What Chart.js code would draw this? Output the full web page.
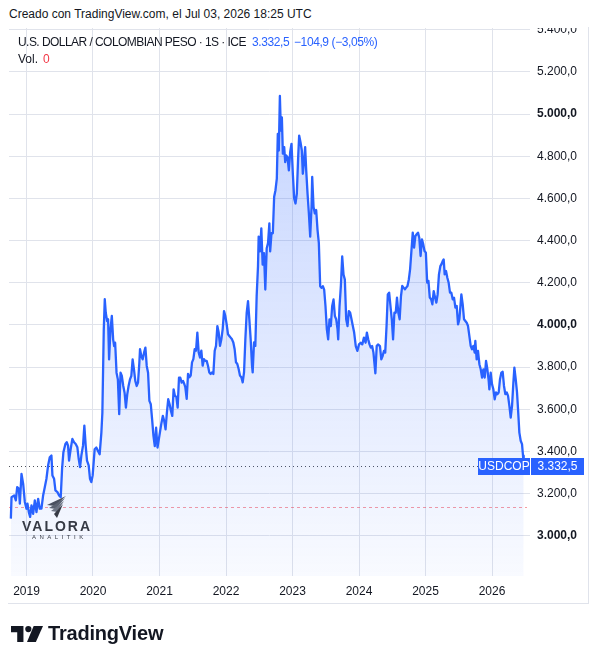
<!DOCTYPE html>
<html lang="es">
<head>
<meta charset="utf-8">
<title>USDCOP - TradingView</title>
<script src="https://cdn.jsdelivr.net/npm/chart.js@4.4.1/dist/chart.umd.min.js"></script>
<style>
  html, body { margin: 0; padding: 0; background: #fff; }
  body {
    width: 598px; height: 664px; position: relative; overflow: hidden;
    font-family: "Liberation Sans", Arial, sans-serif; color: #131722;
  }
  .created { position: absolute; left: 9px; top: 8px; font-size: 12px; line-height: 12px; }
  .panel {
    position: absolute; left: 8px; top: 27px; width: 580px; height: 576px;
    border-right: 1px solid #e0e3eb; border-bottom: 1px solid #e0e3eb;
  }
  #chart-wrap { position: absolute; left: 0; top: 28px; width: 598px; height: 580px; }
  .legend { position: absolute; font-size: 12px; line-height: 17px; white-space: nowrap; }
  .legend.title { left: 18px; top: 34px; letter-spacing: -0.55px; }
  .legend.up { top: 34px; color: #2962ff; letter-spacing: -0.4px; }
  .legend.vol { left: 18px; top: 51px; }
  .legend.vol span { color: #f23645; margin-left: 5px; }
  .valora { position: absolute; left: 22px; top: 496px; width: 72px; }
  .valora svg { position: absolute; left: 25px; top: 0; }
  .valora .name {
    position: absolute; left: 0; top: 22px; font-size: 14px; font-weight: bold;
    letter-spacing: 2px; color: #363a45;
  }
  .valora .sub {
    position: absolute; left: 10px; top: 38px; font-size: 6px; letter-spacing: 3.5px; color: #363a45;
  }
  .tv-logo { position: absolute; left: 11px; top: 626px; }
  .tv-name {
    position: absolute; left: 48px; top: 623px; font-size: 20px; line-height: 20px;
    font-weight: bold; letter-spacing: -0.2px; color: #131722;
  }
</style>
</head>
<body>

<div class="created">Creado con TradingView.com, el Jul 03, 2026 18:25 UTC</div>
<div class="panel"></div>

<div id="chart-wrap"><canvas id="usdcop-chart" width="598" height="580"></canvas></div>

<div class="legend title">U.S. DOLLAR / COLOMBIAN PESO · 1S · ICE</div>
<div class="legend up" id="last-price" style="left:252px"></div>
<div class="legend up" id="last-change" style="left:294px"></div>
<div class="legend vol">Vol.<span>0</span></div>

<div class="valora">
  <svg width="19" height="22" viewBox="0 0 19 22">
    <path d="M19 0 L0 9 L8 10 Z" fill="#4a5060"/>
    <path d="M18 2 L2 12 L9 13 Z" fill="#5b6272"/>
    <path d="M17 5 L4 15 L10 16 Z" fill="#6d7484"/>
    <path d="M16 8 L7 18 L10 22 Z" fill="#363a45"/>
  </svg>
  <div class="name">VALORA</div>
  <div class="sub">ANALITIK</div>
</div>

<svg class="tv-logo" width="32" height="16" viewBox="0 0 36 18">
  <path d="M0 0 H14 V18 H7 V7 H0 Z" fill="#131722"/>
  <circle cx="19.5" cy="3.5" r="3.5" fill="#131722"/>
  <path d="M25.5 0 H36 L28 18 H18 Z" fill="#131722"/>
</svg>
<div class="tv-name">TradingView</div>

<script>
// =============================================================================
// DATA (weekly closes)
// =============================================================================

// Week position as decimal year
const weekT = [
  2018.765, 2018.775, 2018.815, 2018.84, 2018.86, 2018.885, 2018.9, 2018.925, 2018.95, 2018.975,
  2019.0, 2019.015, 2019.035, 2019.055, 2019.075, 2019.1, 2019.125, 2019.15, 2019.175, 2019.2,
  2019.225, 2019.25, 2019.275, 2019.3, 2019.325, 2019.35, 2019.375, 2019.39, 2019.415, 2019.435,
  2019.465, 2019.49, 2019.515, 2019.535, 2019.555, 2019.585, 2019.605, 2019.625, 2019.64, 2019.665,
  2019.69, 2019.715, 2019.74, 2019.765, 2019.785, 2019.805, 2019.825, 2019.85, 2019.87, 2019.89,
  2019.91, 2019.935, 2019.955, 2019.975, 2019.995,
  2020.025, 2020.05, 2020.075, 2020.1, 2020.126, 2020.141, 2020.162, 2020.177, 2020.192, 2020.212,
  2020.227, 2020.242, 2020.263, 2020.283, 2020.303, 2020.318, 2020.333, 2020.354, 2020.374, 2020.394,
  2020.414, 2020.434, 2020.455, 2020.475, 2020.495, 2020.515, 2020.535, 2020.556, 2020.576, 2020.596,
  2020.616, 2020.636, 2020.657, 2020.677, 2020.697, 2020.707, 2020.727, 2020.747, 2020.768, 2020.788,
  2020.808, 2020.828, 2020.848, 2020.869, 2020.889, 2020.909, 2020.929, 2020.949, 2020.97, 2020.99,
  2021.01, 2021.03, 2021.05, 2021.071, 2021.091, 2021.111, 2021.131, 2021.152, 2021.172, 2021.192,
  2021.212, 2021.232, 2021.253, 2021.273, 2021.293, 2021.313, 2021.333, 2021.354, 2021.374,
  2021.388, 2021.409, 2021.429, 2021.449, 2021.469, 2021.489, 2021.509, 2021.529, 2021.549, 2021.569,
  2021.589, 2021.609, 2021.629, 2021.649, 2021.669, 2021.689, 2021.709, 2021.729, 2021.749, 2021.769,
  2021.789, 2021.81, 2021.83, 2021.85, 2021.87, 2021.89, 2021.91, 2021.93, 2021.95, 2021.97,
  2021.99, 2022.01, 2022.03, 2022.05, 2022.07, 2022.09, 2022.11, 2022.13, 2022.15, 2022.17,
  2022.19, 2022.21, 2022.231, 2022.251, 2022.271, 2022.291, 2022.311, 2022.331, 2022.351, 2022.371,
  2022.391, 2022.401, 2022.421, 2022.441, 2022.461, 2022.481, 2022.491, 2022.511, 2022.531, 2022.551,
  2022.571, 2022.591, 2022.612, 2022.632, 2022.652,
  2022.664, 2022.684, 2022.704, 2022.724, 2022.744, 2022.764, 2022.779, 2022.794, 2022.81, 2022.825,
  2022.84, 2022.855, 2022.875, 2022.89, 2022.905, 2022.925, 2022.945, 2022.965, 2022.985, 2023.005,
  2023.025, 2023.045, 2023.065, 2023.085, 2023.1, 2023.12, 2023.14, 2023.155, 2023.17, 2023.19,
  2023.206, 2023.226, 2023.246, 2023.266, 2023.286, 2023.296, 2023.316, 2023.336, 2023.356, 2023.376,
  2023.396, 2023.416, 2023.436, 2023.456, 2023.476, 2023.496, 2023.516, 2023.536, 2023.556, 2023.576,
  2023.596, 2023.617, 2023.637, 2023.657, 2023.677, 2023.687, 2023.707, 2023.727, 2023.747, 2023.767,
  2023.787, 2023.807, 2023.827, 2023.847, 2023.867, 2023.887, 2023.907, 2023.927,
  2023.951, 2023.975, 2024.0, 2024.025, 2024.049, 2024.074, 2024.099, 2024.118, 2024.138, 2024.158,
  2024.177, 2024.197, 2024.217, 2024.246, 2024.266, 2024.286, 2024.315, 2024.335, 2024.355, 2024.374,
  2024.394, 2024.414, 2024.433, 2024.453, 2024.473, 2024.493, 2024.512, 2024.532, 2024.552, 2024.571,
  2024.591, 2024.611, 2024.631, 2024.65, 2024.67, 2024.69, 2024.709, 2024.729, 2024.749, 2024.768,
  2024.788, 2024.808, 2024.828, 2024.847, 2024.867, 2024.887, 2024.906, 2024.926, 2024.946, 2024.966,
  2024.985, 2025.005, 2025.025, 2025.044, 2025.064, 2025.084, 2025.103, 2025.123, 2025.143, 2025.163,
  2025.182, 2025.202,
  2025.223, 2025.238, 2025.258, 2025.273, 2025.288, 2025.308, 2025.328, 2025.348, 2025.368, 2025.388,
  2025.409, 2025.429, 2025.449, 2025.469, 2025.489, 2025.509, 2025.529, 2025.539, 2025.559, 2025.579,
  2025.599, 2025.619, 2025.639, 2025.659, 2025.679, 2025.699, 2025.719, 2025.739, 2025.749, 2025.769,
  2025.789, 2025.81, 2025.83, 2025.85, 2025.87, 2025.89, 2025.91, 2025.93, 2025.95, 2025.96,
  2025.98, 2026.0, 2026.02, 2026.04, 2026.06, 2026.08, 2026.1, 2026.12, 2026.14, 2026.16,
  2026.18, 2026.2, 2026.221, 2026.241, 2026.261, 2026.281, 2026.301, 2026.321, 2026.336, 2026.356,
  2026.376, 2026.391, 2026.411, 2026.431, 2026.451, 2026.466, 2026.476
];

// USD/COP weekly close
const closeCOP = [
  3082, 3184, 3192, 3168, 3231, 3224, 3153, 3294, 3247, 3161,
  3129, 3153, 3113, 3090, 3145, 3105, 3168, 3113, 3176, 3129,
  3129, 3192, 3231, 3271, 3334, 3373, 3381, 3287, 3271, 3216,
  3208, 3192, 3184, 3318, 3397, 3436, 3444, 3428, 3357, 3413,
  3460, 3444, 3436, 3420, 3365, 3326, 3381, 3428, 3523, 3428,
  3357, 3334, 3271, 3255, 3287,
  3411, 3419, 3403, 3387, 3490, 3584, 3979, 4122, 4058, 4019,
  4027, 3837, 3979, 4043, 3932, 3900, 3916, 3774, 3742, 3577,
  3774, 3758, 3711, 3679, 3608, 3671, 3711, 3742, 3758, 3837,
  3790, 3735, 3711, 3727, 3821, 3885, 3853, 3837, 3869, 3893,
  3806, 3774, 3640, 3624, 3553, 3474, 3426, 3513, 3419, 3458,
  3498, 3537, 3569, 3545, 3505, 3584, 3648, 3624, 3592, 3569,
  3695, 3663, 3660, 3608, 3750, 3750, 3727, 3735, 3719,
  3705, 3650, 3768, 3752, 3760, 3823, 3838, 3885, 3878, 3964,
  3870, 3846, 3878, 3807, 3838, 3830, 3830, 3807, 3775, 3768,
  3775, 3768, 3878, 3901, 3995, 3964, 3901, 3932, 3980, 4066,
  4042, 4003, 3956, 3948, 3940, 3932, 3917, 3885, 3823, 3815,
  3791, 3760, 3752, 3728, 3775, 3932, 4058, 4113, 4027, 3932,
  3807, 3775, 3917, 3901, 4137, 4278, 4419, 4349, 4458, 4286,
  4341, 4168, 4364, 4388, 4482,
  4349, 4435, 4435, 4608, 4639, 4694, 4906, 4827, 5086, 4922,
  4984, 4812, 4843, 4772, 4804, 4796, 4733, 4820, 4859, 4717,
  4600, 4576, 4623, 4796, 4898, 4867, 4827, 4717, 4765, 4843,
  4733, 4623, 4529, 4419, 4560, 4702, 4560, 4529, 4545, 4451,
  4388, 4184, 4176, 4184, 4168, 4089, 3980, 3932, 4027, 3995,
  4089, 4121, 4042, 4027, 3980, 3932, 4089, 4184, 4325, 4239,
  4215, 4027, 3995, 4066, 4058, 4027, 3995, 3964,
  3900, 3877, 3908, 3916, 3908, 3940, 3916, 3964, 3932, 3908,
  3893, 3900, 3869, 3771, 3900, 3908, 3900, 3837, 3853, 3877,
  3869, 3995, 4145, 4153, 4090, 4027, 3932, 4058, 4058, 4130,
  4058, 4027, 4137, 4185, 4177, 4169, 4177, 4185, 4216, 4264,
  4351, 4438, 4367, 4422, 4430, 4438, 4414, 4327, 4406, 4382,
  4351, 4343, 4201, 4209, 4130, 4122, 4098, 4161, 4130, 4106,
  4145, 4240,
  4279, 4287, 4303, 4311, 4240, 4256, 4224, 4200, 4153, 4153,
  4122, 4129, 4082, 4090, 4003, 4027, 4106, 4145, 4098, 4027,
  4019, 4011, 3995, 3948, 3901, 3885, 3901, 3869, 3924, 3837,
  3877, 3814, 3790, 3751, 3790, 3751, 3830, 3790, 3735, 3695,
  3774, 3719, 3695, 3648, 3680, 3672, 3680, 3743, 3774, 3778,
  3711, 3672, 3680, 3664, 3617, 3561, 3617, 3727, 3798, 3743,
  3680, 3601, 3490, 3451, 3435, 3380, 3332.5
];

const yearTicks = [2019, 2020, 2021, 2022, 2023, 2024, 2025, 2026];
const priceTicks = [3000, 3200, 3400, 3600, 3800, 4000, 4200, 4400, 4600, 4800, 5000, 5200, 5400];

const lastPrice = 3332.5;
const lastChange = -104.9;
const lastChangePct = -3.05;
const refLevel = 3135;   // dashed horizontal line

// =============================================================================
// HELPERS
// =============================================================================

const LINE_BLUE = '#2962ff';
const GRID = '#e0e3eb';
const TEXT = '#131722';

/**
 * Format a number the Spanish way: 5.200,0
 */
function fmt(v, dec = 1) {
  const sign = v < 0 ? '\u2212' : '';
  const [i, d] = Math.abs(v).toFixed(dec).split('.');
  return sign + i.replace(/\B(?=(\d{3})+(?!\d))/g, '.') + (d ? ',' + d : '');
}

document.getElementById('last-price').textContent = fmt(lastPrice);
document.getElementById('last-change').textContent =
  fmt(lastChange) + ' (' + fmt(lastChangePct, 2) + '%)';

// =============================================================================
// PRICE MARKERS PLUGIN
// =============================================================================

const priceMarkers = {
  id: 'priceMarkers',
  beforeDatasetsDraw(chart) {
    const { ctx, chartArea, scales } = chart;
    const yLast = Math.round(scales.y.getPixelForValue(lastPrice)) + 0.5;
    const yRef = Math.round(scales.y.getPixelForValue(refLevel)) + 0.5;
    ctx.save();
    ctx.lineWidth = 1;

    // dashed reference level
    ctx.strokeStyle = 'rgba(242, 54, 69, 0.5)';
    ctx.setLineDash([3, 3]);
    ctx.beginPath();
    ctx.moveTo(chartArea.left, yRef);
    ctx.lineTo(chartArea.right - 3, yRef);
    ctx.stroke();

    // dotted last price line
    ctx.strokeStyle = 'rgba(19, 23, 34, 0.75)';
    ctx.setLineDash([1, 3]);
    ctx.beginPath();
    ctx.moveTo(chartArea.left, yLast);
    ctx.lineTo(chartArea.right - 52, yLast);
    ctx.stroke();
    ctx.restore();
  },
  afterDraw(chart) {
    const { ctx, chartArea, scales } = chart;
    const yc = Math.round(scales.y.getPixelForValue(lastPrice));
    const h = 17;
    ctx.save();
    ctx.fillStyle = LINE_BLUE;
    ctx.fillRect(chartArea.right - 52, yc - 8, 52, h);
    ctx.fillRect(chartArea.right + 1, yc - 8, 53, h);
    ctx.fillStyle = '#fff';
    ctx.font = '12px "Liberation Sans", Arial, sans-serif';
    ctx.textBaseline = 'middle';
    ctx.textAlign = 'center';
    ctx.fillText('USDCOP', chartArea.right - 26, yc + 1);
    ctx.fillText(fmt(lastPrice), chartArea.right + 27.5, yc + 1);
    ctx.restore();
  }
};

// =============================================================================
// CHART
// =============================================================================

const ctx = document.getElementById('usdcop-chart').getContext('2d');

new Chart(ctx, {
  type: 'line',
  data: {
    datasets: [{
      data: weekT.map((t, i) => ({ x: t, y: closeCOP[i] })),
      borderColor: LINE_BLUE,
      borderWidth: 2.3,
      borderJoinStyle: 'round',
      tension: 0,
      pointRadius: 0,
      fill: 'start',
      backgroundColor: (c) => {
        const area = c.chart.chartArea;
        if (!area) return 'rgba(41, 98, 255, 0.1)';
        const g = c.chart.ctx.createLinearGradient(0, area.top, 0, area.bottom);
        g.addColorStop(0, 'rgba(41, 98, 255, 0.3)');
        g.addColorStop(1, 'rgba(41, 98, 255, 0.03)');
        return g;
      }
    }]
  },
  options: {
    responsive: false,
    animation: false,
    devicePixelRatio: 1,
    layout: { padding: { left: 9, right: 10, top: 0, bottom: 2 } },
    plugins: {
      legend: { display: false },
      tooltip: { enabled: false }
    },
    scales: {
      x: {
        type: 'linear',
        min: 2018.737,
        max: 2026.571,
        afterBuildTicks: (s) => { s.ticks = yearTicks.map(v => ({ value: v })); },
        afterFit: (s) => { s.height = 30; s.paddingLeft = 0; s.paddingRight = 0; },
        grid: { color: GRID, drawTicks: false },
        border: { display: false },
        ticks: {
          color: TEXT,
          font: { family: '"Liberation Sans", Arial, sans-serif', size: 12 },
          padding: 8,
          maxRotation: 0,
          autoSkip: false,
          callback: (v) => String(v)
        }
      },
      y: {
        position: 'right',
        min: 2810,
        max: 5408,
        afterBuildTicks: (s) => { s.ticks = priceTicks.map(v => ({ value: v })); },
        // no extra room for the edge labels: the top one is cut, as on TradingView
        afterFit: (s) => { s.width = 58; s.paddingTop = 0; s.paddingBottom = 0; },
        grid: { color: GRID, drawTicks: false },
        border: { display: false },
        ticks: {
          color: TEXT,
          padding: 7,
          font: (c) => ({
            family: '"Liberation Sans", Arial, sans-serif',
            size: 12,
            weight: c.tick && c.tick.value % 1000 === 0 ? 'bold' : 'normal'
          }),
          callback: (v) => fmt(v)
        }
      }
    }
  },
  plugins: [priceMarkers]
});
</script>
</body>
</html>
